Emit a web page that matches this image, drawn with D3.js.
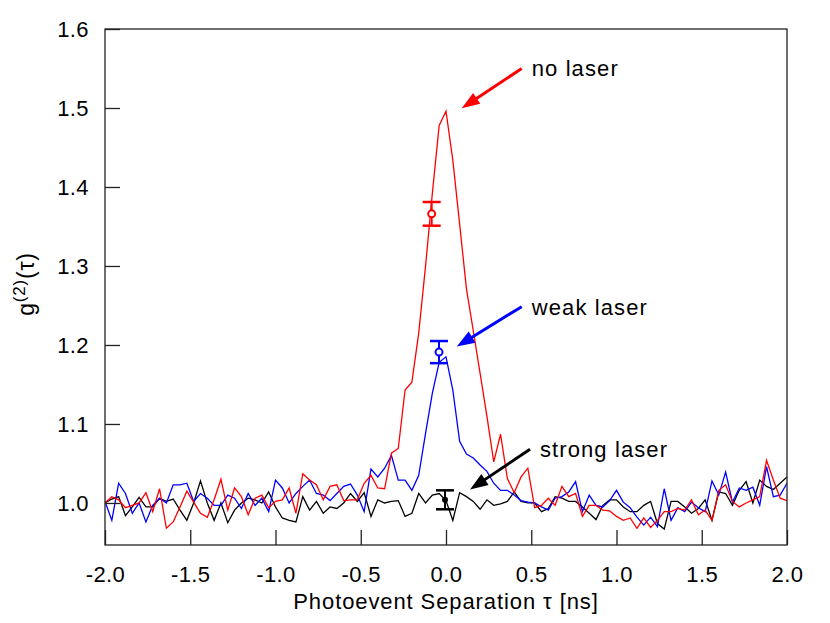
<!DOCTYPE html>
<html><head><meta charset="utf-8">
<script src="https://cdn.jsdelivr.net/npm/d3@7"></script>
<style>body{margin:0;background:#fff}svg{display:block}text{font-family:"Liberation Sans",Arial,Helvetica,sans-serif;fill:#000}</style>
</head><body><svg id="c" width="830" height="623"></svg>
<script>
// time axis: -2 ns to 2 ns in 0.04 ns steps (101 points)
const tStart = -2, tStep = 0.04;
const noLaser = [1.000,1.008,1.004,0.994,0.997,1.000,1.013,0.989,1.018,0.968,0.976,0.995,1.015,1.001,0.987,0.982,1.004,1.030,0.991,1.019,1.008,0.985,1.006,1.010,0.994,1.002,1.004,1.019,0.987,1.037,1.029,1.023,1.004,1.021,1.023,1.003,1.004,1.004,1.025,1.035,1.019,1.018,1.063,1.069,1.143,1.153,1.215,1.300,1.392,1.478,1.496,1.434,1.353,1.271,1.218,1.164,1.110,1.052,1.087,1.031,1.013,1.033,1.044,0.994,0.997,1.006,0.997,1.021,1.008,1.012,0.983,0.997,0.997,0.991,0.990,0.983,0.978,0.981,0.968,0.981,0.969,0.978,0.989,0.989,0.993,0.991,1.004,0.985,0.991,0.978,1.016,1.023,1.002,0.995,1.000,1.004,1.008,1.054,1.029,1.006,1.003];
const weakLaser = [1.002,0.978,1.025,1.012,0.987,1.000,0.976,0.997,1.006,1.000,1.023,1.023,1.025,1.002,1.012,1.006,0.997,0.997,1.010,1.006,0.993,1.012,0.997,1.006,0.989,1.029,1.019,1.000,1.012,1.021,1.029,1.012,1.010,1.003,1.012,1.021,1.024,1.010,0.989,1.043,1.033,1.044,1.060,1.029,1.029,1.016,1.035,1.088,1.139,1.178,1.185,1.143,1.078,1.062,1.057,1.048,1.040,1.025,1.016,1.016,1.010,1.003,1.001,1.000,0.995,0.991,1.006,1.008,1.014,1.027,0.989,1.010,0.997,0.995,1.003,1.016,1.001,0.994,0.982,0.972,0.982,0.970,1.018,0.978,0.994,0.989,1.001,0.994,0.989,1.028,1.010,1.039,1.001,1.019,1.016,1.020,0.997,1.046,1.008,1.010,1.025];
const strongLaser = [1.000,1.005,1.008,0.984,0.995,1.007,0.995,0.995,1.006,1.002,1.005,0.991,0.978,1.000,1.028,1.000,0.978,1.000,0.975,0.991,1.000,1.006,1.004,1.000,1.014,0.995,0.981,0.978,0.976,1.008,0.991,1.002,0.987,0.995,0.993,1.000,1.012,1.002,1.013,0.983,1.004,1.000,1.002,1.003,0.983,0.987,1.012,1.000,1.010,1.012,1.003,0.978,1.013,1.008,1.002,0.992,1.004,0.997,0.999,1.002,1.014,1.002,1.000,1.000,0.989,0.993,1.008,1.006,1.002,1.002,0.995,0.987,0.979,0.997,1.004,1.004,0.995,0.989,0.989,0.997,1.002,0.974,0.967,1.002,1.002,0.995,0.987,0.993,1.004,0.978,1.014,1.012,0.997,1.016,1.027,1.000,1.029,1.021,1.017,1.025,1.033];
const seriesNames = ["no laser","weak laser","strong laser"];
const seriesColors = ["#ff0000","#0000ff","#000000"];
// error-bar points: [tau, value, error]
const errNo = [-0.084, 1.366, 0.015];
const errWeak = [-0.041, 1.191, 0.014];
const errStrong = [-0.006, 1.004, 0.012];
// annotation: label anchor [tau, g2], arrow from [tau,g2] to [tau,g2]
const labelPos = [[0.503,1.540],[0.503,1.238],[0.551,1.0586]];
const arrowFrom = [[0.444,1.550],[0.444,1.2485],[0.493,1.068]];
const arrowTo = [[0.092,1.4996],[0.063,1.198],[0.141,1.017]];
const xTicks = [-2,-1.5,-1,-0.5,0,0.5,1,1.5,2];
const yTicks = [1.0,1.1,1.2,1.3,1.4,1.5,1.6];

const svg = d3.select("#c");
const L=105,R=787,T=29,B=545;
const x = d3.scaleLinear().domain([-2,2]).range([L,R]);
const y = d3.scaleLinear().domain([0.9468,1.6]).range([B,T]);
const font = '"Liberation Sans",Arial,Helvetica,sans-serif';

const data = [noLaser,weakLaser,strongLaser];
const errs = [errNo,errWeak,errStrong];
const line = d3.line().x((d,i)=>x(tStart+tStep*i)).y(d=>y(d));

svg.append("clipPath").attr("id","clip").append("rect").attr("x",L).attr("y",T).attr("width",R-L).attr("height",B-T);
const g = svg.append("g").attr("clip-path","url(#clip)");
[2,1,0].forEach(k=>{
  g.append("path").datum(data[k]).attr("d",line).attr("fill","none")
   .attr("stroke",seriesColors[k]).attr("stroke-width",1.3).attr("stroke-linejoin","miter");
});

errs.forEach((e,k)=>{
  const c=seriesColors[k];
  const cx=x(e[0]), y1=y(e[1]+e[2]), y0=y(e[1]-e[2]);
  svg.append("line").attr("x1",cx).attr("x2",cx).attr("y1",y1).attr("y2",y0).attr("stroke",c).attr("stroke-width",2);
  [y1,y0].forEach(yy=>svg.append("line").attr("x1",cx-9).attr("x2",cx+9).attr("y1",yy).attr("y2",yy).attr("stroke",c).attr("stroke-width",2.5));
  if(k<2) svg.append("circle").attr("cx",cx).attr("cy",y(e[1])).attr("r",3.5).attr("fill","#fff").attr("stroke",c).attr("stroke-width",2);
  else svg.append("circle").attr("cx",cx).attr("cy",y(e[1])).attr("r",3).attr("fill",c);
});

svg.append("rect").attr("x",L).attr("y",T).attr("width",R-L).attr("height",B-T).attr("fill","none").attr("stroke","#222").attr("stroke-width",1.3);

const xAxis = svg.append("g").attr("transform",`translate(0,${B})`)
  .call(d3.axisBottom(x).tickValues(xTicks).tickSize(-15).tickPadding(21).tickFormat(d3.format(".1f")));
const yAxis = svg.append("g").attr("transform",`translate(${L},0)`)
  .call(d3.axisLeft(y).tickValues(yTicks).tickSize(-15).tickPadding(16).tickFormat(d3.format(".1f")));
[xAxis,yAxis].forEach(a=>{
  a.select(".domain").remove();
  a.selectAll(".tick line").attr("stroke","#222").attr("stroke-width",1.3);
  a.selectAll(".tick text").attr("font-family",font).attr("font-size",22).attr("fill","#000").attr("letter-spacing",0.4);
});
xAxis.selectAll(".tick text").text(d=>d3.format(".1f")(d).replace("−","-"));
yAxis.selectAll(".tick text").attr("dy","0.36em");

svg.append("text").attr("x",446).attr("y",609).attr("text-anchor","middle").attr("font-size",22).attr("letter-spacing",0.9).text("Photoevent Separation τ [ns]");
const yt = svg.append("text").attr("transform","translate(34,284) rotate(-90)").attr("text-anchor","middle").attr("font-size",23).attr("letter-spacing",0.8);
yt.append("tspan").text("g");
yt.append("tspan").attr("dy",-9).attr("font-size",17).text("(2)");
yt.append("tspan").attr("dy",9).text("(τ)");

seriesNames.forEach((n,k)=>{
  const c=seriesColors[k];
  svg.append("text").attr("x",x(labelPos[k][0])).attr("y",y(labelPos[k][1])).attr("font-size",22).attr("letter-spacing",1.1).text(n);
  const x1=x(arrowFrom[k][0]), y1=y(arrowFrom[k][1]), x2=x(arrowTo[k][0]), y2=y(arrowTo[k][1]);
  const ang=Math.atan2(y2-y1,x2-x1), hl=18, hw=6.5;
  const bx=x2-hl*Math.cos(ang), by=y2-hl*Math.sin(ang);
  svg.append("line").attr("x1",x1).attr("y1",y1).attr("x2",bx+2*Math.cos(ang)).attr("y2",by+2*Math.sin(ang)).attr("stroke",c).attr("stroke-width",3);
  const px=-Math.sin(ang), py=Math.cos(ang);
  svg.append("polygon").attr("points",[[x2,y2],[bx+hw*px,by+hw*py],[bx-hw*px,by-hw*py]].map(p=>p.join(",")).join(" ")).attr("fill",c);
});
</script></body></html>
